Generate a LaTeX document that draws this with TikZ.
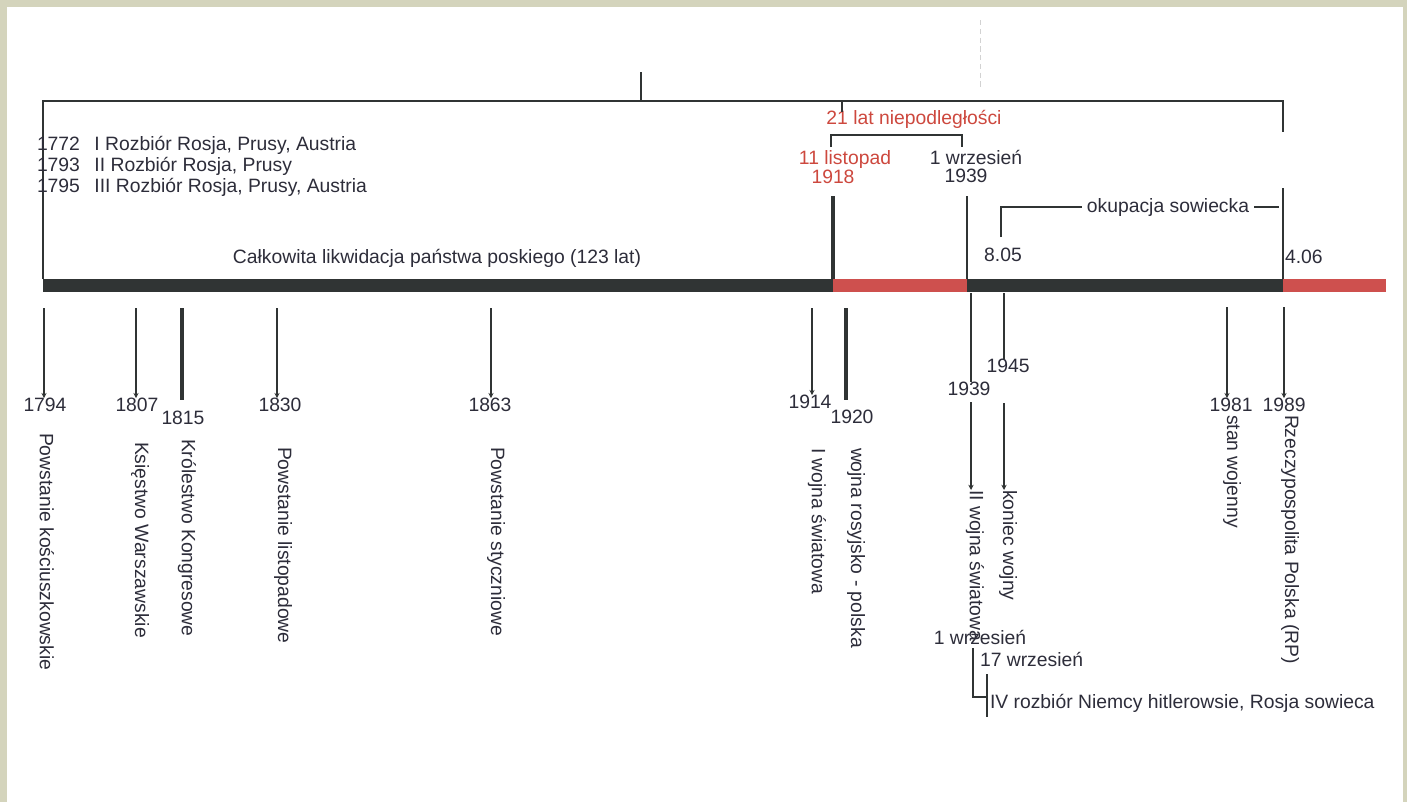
\documentclass[tikz,border=0pt]{standalone}
\usepackage{fontspec}
\setmainfont{Liberation Sans}
\usetikzlibrary{positioning,arrows.meta}
\definecolor{mydark}{RGB}{48,52,52}
\definecolor{myred}{RGB}{206,80,78}
\definecolor{myredtxt}{RGB}{205,72,62}
\definecolor{mytext}{RGB}{45,45,58}
\definecolor{mypaper}{RGB}{212,212,188}

\begin{document}
\begin{tikzpicture}[x=0.02cm,y=-0.02cm,outer sep=0pt,
	txt/.style={font=\fontsize{11}{12}\selectfont, text=mytext, inner sep=0pt},
	redtxt/.style={txt, text=myredtxt},
	vtxt/.style={txt, rotate=-90, anchor=west},
	ln/.style={draw=mydark, line width=1.1pt},
	thinln/.style={ln, line width=0.8pt},
	thickln/.style={ln, line width=2.3pt},
	tickln/.style={ln, -{Stealth[length=3pt,width=3pt]}},
	]
	\useasboundingbox (0,0) rectangle (1407,802);
	\fill[mypaper] (0,0) rectangle (1407,802);
	\fill[white] (7,7) rectangle (1403,802);
	\draw[gray!35, densely dashed, line width=0.4pt] (980,20) -- (980,90);

	% bar
	\coordinate (b0) at (43,279);
	\coordinate (b1918) at (833,279);
	\coordinate (b1939) at (967,279);
	\coordinate (b1989) at (1283,279);
	\coordinate (bend) at (1386,292);
	\fill[mydark] (b0) rectangle (b1918 |- bend);
	\fill[myred] (b1918) rectangle (b1939 |- bend);
	\fill[mydark] (b1939) rectangle (b1989 |- bend);
	\fill[myred] (b1989) rectangle (bend);

	% top bracket
	\coordinate (tl) at (43,101);
	\coordinate (tr) at (1283,101);
	\coordinate (tstem) at (641,72);
	\draw[ln] (b0) -- (tl) -- (tr) -- ++(0,31);
	\draw[ln] (tstem) -- (tstem |- tl);

	\node[txt, align=left, anchor=north west] (rozbiory) at (37,136)
		{1772\hspace{0.75em}I Rozbiór Rosja, Prusy, Austria\\
		 1793\hspace{0.75em}II Rozbiór Rosja, Prusy\\
		 1795\hspace{0.75em}III Rozbiór Rosja, Prusy, Austria};
	\node[txt] (likw) at (437,258) {Całkowita likwidacja państwa poskiego (123 lat)};

	% independence
	\node[redtxt] (lata) at (914,119) {21 lat niepodległości};
	\coordinate (nt) at (842,112);
	\coordinate (n1) at (831,147);
	\coordinate (n2) at (962,147);
	\draw[ln] (n1) |- ++(0,-12) -| (n2);
	\draw[ln] (nt |- tl) -- (nt);
	\node[redtxt] (lis) at (845,159) {11 listopad};
	\node[redtxt] (r1918) at (833,177) {1918};
	\node[txt] (wrz) at (976,157) {1 wrzesień};
	\node[txt] (r1939) at (966,176) {1939};
	\coordinate (u1918) at (833,196);
	\coordinate (u1939) at (967,196);
	\draw[thickln] (u1918) -- (u1918 |- b0);
	\draw[ln] (u1939) -- (u1939 |- b0);

	% soviet occupation
	\node[txt, inner xsep=3pt] (okup) at (1168,207) {okupacja sowiecka};
	\coordinate (o1) at (1001,237);
	\coordinate (o2) at (1279,207);
	\coordinate (r1) at (1283,188);
	\draw[ln] (o1) |- (okup.west);
	\draw[ln] (okup.east) -- (o2);
	\draw[ln] (r1) -- (r1 |- b0);
	\node[txt] (d805) at (1003,255) {8.05};
	\node[txt, anchor=west] (d406) at (1285,257) {4.06};

	% events below the bar
	\node[txt] (y1794) at (45,405) {1794};
	\node[vtxt] (t1794) at (47,433) {Powstanie kościuszkowskie};
	\coordinate (c1794) at (44,308);
	\draw[tickln] (c1794) -- (c1794 |- y1794.north);

	\node[txt] (y1807) at (137,405) {1807};
	\node[vtxt] (t1807) at (140,442) {Księstwo Warszawskie};
	\coordinate (c1807) at (136,308);
	\draw[tickln] (c1807) -- (c1807 |- y1807.north);

	\node[txt] (y1815) at (183,418) {1815};
	\node[vtxt] (t1815) at (187,439) {Królestwo Kongresowe};
	\coordinate (c1815) at (182,308);
	\draw[thickln] (c1815) -- ++(0,92);

	\node[txt] (y1830) at (280,405) {1830};
	\node[vtxt] (t1830) at (283,447) {Powstanie listopadowe};
	\coordinate (c1830) at (277,308);
	\draw[tickln] (c1830) -- (c1830 |- y1830.north);

	\node[txt] (y1863) at (490,405) {1863};
	\node[vtxt] (t1863) at (496,447) {Powstanie styczniowe};
	\coordinate (c1863) at (491,308);
	\draw[tickln] (c1863) -- (c1863 |- y1863.north);

	\node[txt] (y1914) at (810,402) {1914};
	\node[vtxt] (t1914) at (817,448) {I wojna światowa};
	\coordinate (c1914) at (812,308);
	\draw[tickln] (c1914) -- (c1914 |- y1914.north);

	\node[txt] (y1920) at (852,417) {1920};
	\node[vtxt] (t1920) at (856,448) {wojna rosyjsko - polska};
	\coordinate (c1920) at (846,308);
	\draw[thickln] (c1920) -- ++(0,92);

	\node[txt] (y1939) at (969,389) {1939};
	\node[vtxt] (t1939) at (975,490) {II wojna światowa};
	\coordinate (c1939) at (971,293);
	\coordinate (w1939) at (971,402);
	\draw[ln] (c1939) -- (c1939 |- y1939.north);
	\draw[tickln] (w1939) -- (w1939 |- t1939.west);
	\node[txt] (wrz1) at (980,637) {1 wrzesień};
	\node[txt, anchor=west] (wrz17) at (980,659) {17 wrzesień};
	\node[txt, anchor=west] (rozb4) at (990,703) {IV rozbiór Niemcy hitlerowsie, Rosja sowieca};
	\coordinate (k1) at (973,648);
	\coordinate (k2) at (987,697);
	\coordinate (k3) at (987,674);
	\coordinate (k4) at (987,717);
	\draw[thinln] (k1) |- (k2);
	\draw[thinln] (k3) -- (k4);

	\node[txt] (y1945) at (1008,366) {1945};
	\node[vtxt] (t1945) at (1008,490) {koniec wojny};
	\coordinate (c1945) at (1004,293);
	\coordinate (w1945) at (1004,403);
	\draw[ln] (c1945) -- (c1945 |- y1945.north);
	\draw[tickln] (w1945) -- (w1945 |- t1945.west);

	\node[txt] (y1981) at (1231,405) {1981};
	\node[vtxt] (t1981) at (1232,415) {stan wojenny};
	\coordinate (c1981) at (1227,307);
	\draw[tickln] (c1981) -- (c1981 |- y1981.north);

	\node[txt] (y1989) at (1284,405) {1989};
	\node[vtxt] (t1989) at (1290,415) {Rzeczypospolita Polska (RP)};
	\coordinate (c1989) at (1284,307);
	\draw[tickln] (c1989) -- (c1989 |- y1989.north);
\end{tikzpicture}
\end{document}
